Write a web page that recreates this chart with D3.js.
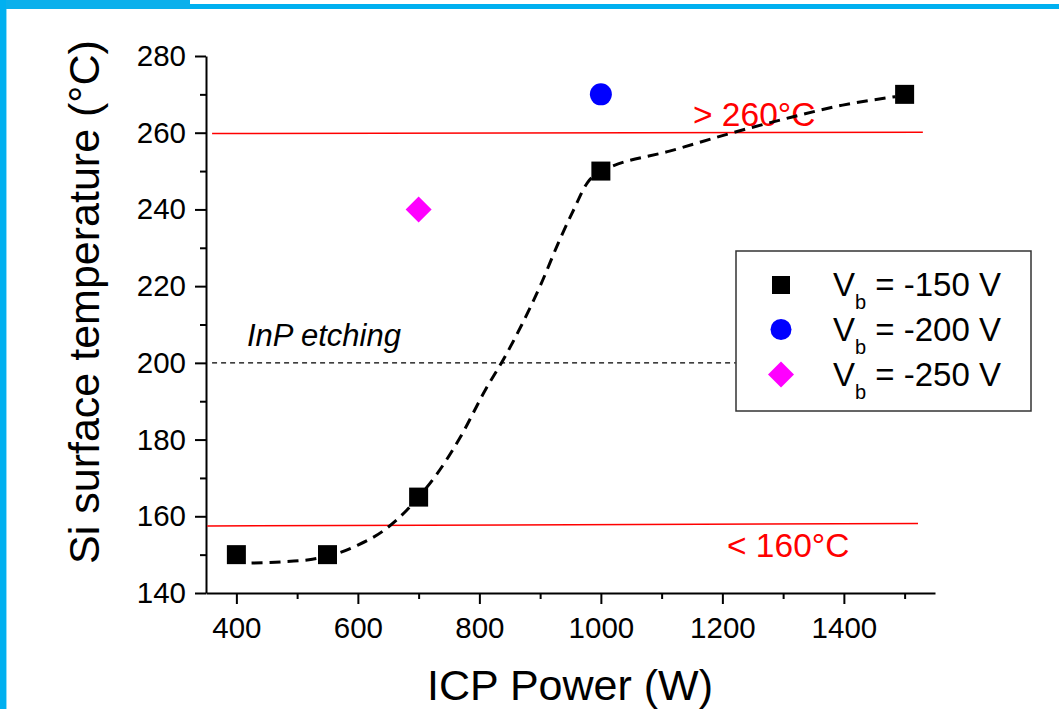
<!DOCTYPE html>
<html>
<head>
<meta charset="utf-8">
<script src="https://cdn.jsdelivr.net/npm/d3@7"></script>
<style>
  body { margin: 0; background: #fff; }
  text { font-family: Arial, "Liberation Sans", sans-serif; }
</style>
</head>
<body>
<svg id="chart" width="1059" height="709"></svg>
<script>
// measured points
const powerVb150 = [400, 550, 700, 1000, 1500];
const tempVb150 = [150, 150, 165, 250, 270];
const powerVb200 = [1000];
const tempVb200 = [270];
const powerVb250 = [700];
const tempVb250 = [240];

// dashed fit curve through the -150 V points
const fitPower = [425, 475, 525, 560, 600, 640, 680, 700, 730, 770, 810, 840, 870, 900, 932, 954, 978, 1000, 1019, 1113, 1217, 1315, 1398, 1485];
const fitTemp = [147.8, 148.1, 148.8, 150, 152.5, 156, 161.5, 165, 171, 181, 193, 201, 210, 220, 232, 239.5, 247, 250, 251.3, 255.2, 260, 264.1, 267.2, 269.4];

// reference lines
const upperLimitPower = [360, 1530];
const upperLimitTemp = [259.8, 260.1];
const lowerLimitPower = [352, 1522];
const lowerLimitTemp = [157.5, 158.1];
const etchPower = [360, 1222];
const etchTemp = [200, 200];

const xTicks = [400, 600, 800, 1000, 1200, 1400];
const xMinorTicks = [500, 700, 900, 1100, 1300, 1500];
const yTicks = [140, 160, 180, 200, 220, 240, 260, 280];
const yMinorTicks = [150, 170, 190, 210, 230, 250, 270];

const legendLabels = [" = -150 V", " = -200 V", " = -250 V"];

const svg = d3.select("#chart");

// blue slide frame
svg.append("rect").attr("x", 0).attr("y", 0).attr("width", 190).attr("height", 9).attr("fill", "#0bb0ec");
svg.append("rect").attr("x", 190).attr("y", 4).attr("width", 869).attr("height", 5).attr("fill", "#00b0f0");
svg.append("rect").attr("x", 0).attr("y", 0).attr("width", 6).attr("height", 709).attr("fill", "#00b0f0");
svg.append("rect").attr("x", 6).attr("y", 9).attr("width", 1).attr("height", 700).attr("fill", "#8fdcf8");

var x = d3.scaleLinear().domain([350, 1550]).range([206, 935]);
var y = d3.scaleLinear().domain([140, 280]).range([593, 56]);

// axes
var xAxis = svg.append("g").attr("transform", "translate(0,593)")
  .call(d3.axisBottom(x).tickValues(xTicks).tickFormat(d3.format("d")).tickSize(11).tickSizeOuter(0).tickPadding(6));
svg.append("g").attr("transform", "translate(0,593)")
  .call(d3.axisBottom(x).tickValues(xMinorTicks).tickSize(6).tickSizeOuter(0).tickFormat(""))
  .select(".domain").remove();

var yAxis = svg.append("g").attr("transform", "translate(206,0)")
  .call(d3.axisLeft(y).tickValues(yTicks).tickFormat(d3.format("d")).tickSize(11).tickSizeOuter(0).tickPadding(9));
svg.append("g").attr("transform", "translate(206,0)")
  .call(d3.axisLeft(y).tickValues(yMinorTicks).tickSize(6).tickSizeOuter(0).tickFormat(""))
  .select(".domain").remove();

svg.selectAll(".domain, .tick line").attr("stroke", "#000").attr("stroke-width", 2);
xAxis.selectAll("text").attr("font-size", 29.5).attr("fill", "#000").attr("dy", "0.95em");
yAxis.selectAll("text").attr("font-size", 29.5).attr("fill", "#000");

// axis titles
svg.append("text").attr("x", 570).attr("y", 700).attr("text-anchor", "middle")
  .attr("font-size", 43).text("ICP Power (W)");
svg.append("text").attr("transform", "translate(99,302) rotate(-90)").attr("text-anchor", "middle")
  .attr("font-size", 43).text("Si surface temperature (°C)");

var line = d3.line().x(d => x(d[0])).y(d => y(d[1]));

// red limits
svg.append("path").datum(d3.zip(upperLimitPower, upperLimitTemp)).attr("d", line)
  .attr("stroke", "#ff0000").attr("stroke-width", 1.5).attr("fill", "none");
svg.append("path").datum(d3.zip(lowerLimitPower, lowerLimitTemp)).attr("d", line)
  .attr("stroke", "#ff0000").attr("stroke-width", 1.5).attr("fill", "none");
svg.append("text").attr("x", 693).attr("y", 126).attr("font-size", 33.5).attr("fill", "#ff0000").text("> 260°C");
svg.append("text").attr("x", 727).attr("y", 557).attr("font-size", 33.5).attr("fill", "#ff0000").text("< 160°C");

// InP etching threshold
svg.append("path").datum(d3.zip(etchPower, etchTemp)).attr("d", line)
  .attr("stroke", "#000").attr("stroke-width", 1.3).attr("stroke-dasharray", "5,4").attr("fill", "none");
svg.append("text").attr("x", 247).attr("y", 346).attr("font-size", 31).attr("font-style", "italic").text("InP etching");

// fit curve
svg.append("path").datum(d3.zip(fitPower, fitTemp))
  .attr("d", line.curve(d3.curveMonotoneX))
  .attr("stroke", "#000").attr("stroke-width", 3).attr("stroke-dasharray", "11,7").attr("fill", "none");

// markers
svg.selectAll(".sq").data(d3.zip(powerVb150, tempVb150)).enter().append("rect")
  .attr("class", "sq")
  .attr("x", d => x(d[0]) - 9.5).attr("y", d => y(d[1]) - 9.5)
  .attr("width", 19).attr("height", 19).attr("fill", "#000");
svg.selectAll(".ci").data(d3.zip(powerVb200, tempVb200)).enter().append("circle")
  .attr("class", "ci")
  .attr("cx", d => x(d[0])).attr("cy", d => y(d[1])).attr("r", 11).attr("fill", "#0000ff");
svg.selectAll(".di").data(d3.zip(powerVb250, tempVb250)).enter().append("path")
  .attr("class", "di")
  .attr("transform", d => `translate(${x(d[0])},${y(d[1])})`)
  .attr("d", "M0,-13L13,0L0,13L-13,0Z").attr("fill", "#ff00ff");

// legend
var legend = svg.append("g");
legend.append("rect").attr("x", 736).attr("y", 251).attr("width", 295).attr("height", 160)
  .attr("fill", "#fff").attr("stroke", "#333").attr("stroke-width", 1.5);

var rowY = [285, 329.5, 374.5];
legend.append("rect").attr("x", 781 - 9).attr("y", rowY[0] - 9).attr("width", 18).attr("height", 18).attr("fill", "#000");
legend.append("circle").attr("cx", 781).attr("cy", rowY[1]).attr("r", 10.5).attr("fill", "#0000ff");
legend.append("path").attr("transform", `translate(781,${rowY[2]})`)
  .attr("d", "M0,-13L13,0L0,13L-13,0Z").attr("fill", "#ff00ff");

legendLabels.forEach(function (lab, i) {
  var t = legend.append("text").attr("x", 833).attr("y", rowY[i] + 11).attr("font-size", 33);
  t.append("tspan").text("V");
  t.append("tspan").attr("font-size", 20).attr("dy", 13).text("b");
  t.append("tspan").attr("dy", -13).text(lab);
});
</script>
</body>
</html>
